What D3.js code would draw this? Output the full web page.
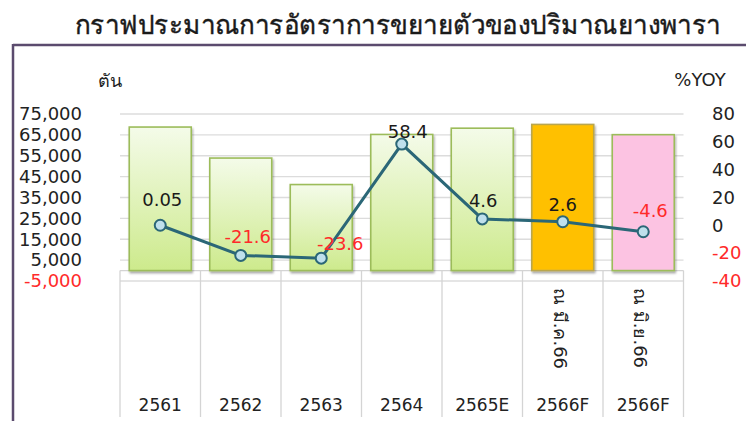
<!DOCTYPE html>
<html>
<head>
<meta charset="utf-8">
<script src="https://cdn.jsdelivr.net/npm/d3@7"></script>
<style>
  body { margin: 0; background: #fff; }
  svg { display: block; font-family: "DejaVu Sans", Verdana, sans-serif; }
</style>
</head>
<body>
<svg width="746" height="421"></svg>
<script>
var width = 746,
    height = 421;

// data
var years = ["2561", "2562", "2563", "2564", "2565E", "2566F", "2566F"];
var subLabels = ["", "", "", "", "", "ณ มี.ค.66", "ณ มิ.ย.66"];
var tonnes = [68750, 53900, 41200, 65200, 68200, 70000, 65100];
var yoy = [0.05, -21.6, -23.6, 58.4, 4.6, 2.6, -4.6];
var yoyText = ["0.05", "-21.6", "-23.6", "58.4", "4.6", "2.6", "-4.6"];
var leftTicks = [-5000, 5000, 15000, 25000, 35000, 45000, 55000, 65000, 75000];
var rightTicks = [-40, -20, 0, 20, 40, 60, 80];
var barKind = ["g", "g", "g", "g", "g", "o", "p"];

// label nudges (layout only)
var labelDx = [2, 7, 19, 6, 1, 0, 7],
    labelDy = [-26, -19, -14, -12, -18, -17, -21];

var locale = d3.formatLocale({ decimal: ".", thousands: ",", grouping: [3], currency: ["", ""], minus: "-" });
var fmt = locale.format(",");

var svg = d3.select("svg");

var defs = svg.append("defs");
var grad = defs.append("linearGradient")
    .attr("id", "gGreen")
    .attr("x1", 0).attr("y1", 0).attr("x2", 0).attr("y2", 1);
grad.append("stop").attr("offset", "0%").attr("stop-color", "#f4fbe9");
grad.append("stop").attr("offset", "100%").attr("stop-color", "#cdea8c");

var shadow = defs.append("filter").attr("id", "shadow")
    .attr("x", "-10%").attr("y", "-10%").attr("width", "130%").attr("height", "130%");
shadow.append("feDropShadow")
    .attr("dx", 1).attr("dy", 2).attr("stdDeviation", 1.2)
    .attr("flood-color", "#000").attr("flood-opacity", 0.35);

// frame
svg.append("line")
    .attr("x1", 13).attr("x2", width).attr("y1", 45).attr("y2", 45)
    .attr("stroke", "#5b4b6e").attr("stroke-width", 2.5);
svg.append("line")
    .attr("x1", 13).attr("x2", 13).attr("y1", 44).attr("y2", height)
    .attr("stroke", "#5b4b6e").attr("stroke-width", 2.5);

// title
svg.append("text")
    .attr("x", 398).attr("y", 34)
    .attr("text-anchor", "middle")
    .attr("font-size", 27)
    .attr("fill", "#1a1a1a")
    .attr("stroke", "#1a1a1a")
    .attr("stroke-width", 0.4)
    .attr("textLength", 646)
    .attr("lengthAdjust", "spacingAndGlyphs")
    .text("กราฟประมาณการอัตราการขยายตัวของปริมาณยางพารา");

var x = d3.scaleBand()
    .domain(d3.range(years.length))
    .range([120, 683.5])
    .paddingInner(0.23)
    .paddingOuter(0.115);

var yL = d3.scaleLinear().domain([-5000, 75000]).range([281, 114]);
var yR = d3.scaleLinear().domain([-40, 80]).range([281, 114]);

// gridlines
svg.append("g").selectAll("line")
    .data(leftTicks)
    .enter().append("line")
    .attr("x1", 120).attr("x2", 683.5)
    .attr("y1", function (d) { return yL(d); })
    .attr("y2", function (d) { return yL(d); })
    .attr("stroke", "#dcdcdc").attr("stroke-width", 1.3);

// left axis
var axL = svg.append("g")
    .attr("transform", "translate(84,0)")
    .call(d3.axisLeft(yL).tickValues(leftTicks).tickSize(0).tickPadding(2)
        .tickFormat(fmt));
axL.select(".domain").remove();
axL.selectAll("text")
    .attr("font-size", 18)
    .attr("font-family", "DejaVu Sans, sans-serif")
    .attr("fill", function (d) { return d < 0 ? "#ff2a2a" : "#222"; });

// right axis
var axR = svg.append("g")
    .attr("transform", "translate(710,0)")
    .call(d3.axisRight(yR).tickValues(rightTicks).tickSize(0).tickPadding(2)
        .tickFormat(fmt));
axR.select(".domain").remove();
axR.selectAll("text")
    .attr("font-size", 18)
    .attr("font-family", "DejaVu Sans, sans-serif")
    .attr("fill", function (d) { return d < 0 ? "#ff2a2a" : "#222"; });

// unit labels
svg.append("text").attr("x", 110).attr("y", 87)
    .attr("text-anchor", "middle").attr("font-size", 18).attr("fill", "#222")
    .text("ตัน");
svg.append("text").attr("x", 700).attr("y", 86)
    .attr("text-anchor", "middle").attr("font-size", 18).attr("fill", "#222")
    .text("%YOY");

// table under the plot
var table = svg.append("g");
table.append("line")
    .attr("x1", 120).attr("x2", 683.5)
    .attr("y1", yL(0)).attr("y2", yL(0))
    .attr("stroke", "#d4d4d4").attr("stroke-width", 1.3);
var edges = d3.range(years.length + 1).map(function (i) {
    return i < years.length ? x(i) - x.step() * x.paddingInner() / 2 : 683.5;
});
table.selectAll(".vline")
    .data(edges)
    .enter().append("line")
    .attr("class", "vline")
    .attr("x1", function (d) { return d; })
    .attr("x2", function (d) { return d; })
    .attr("y1", yL(0)).attr("y2", 417)
    .attr("stroke", "#d4d4d4").attr("stroke-width", 1.3);

table.selectAll(".year")
    .data(years)
    .enter().append("text")
    .attr("class", "year")
    .attr("x", function (d, i) { return x(i) + x.bandwidth() / 2; })
    .attr("y", 411)
    .attr("text-anchor", "middle")
    .attr("font-size", 17)
    .attr("fill", "#222")
    .text(function (d) { return d; });

table.selectAll(".sub")
    .data(subLabels)
    .enter().append("text")
    .attr("class", "sub")
    .attr("transform", function (d, i) {
        return "translate(" + (x(i) + x.bandwidth() / 2 - 9) + ",288) rotate(90)";
    })
    .attr("font-size", 18)
    .attr("fill", "#222")
    .text(function (d) { return d; });

// bars
svg.append("g").selectAll("rect")
    .data(tonnes)
    .enter().append("rect")
    .attr("x", function (d, i) { return x(i); })
    .attr("y", function (d) { return yL(d); })
    .attr("width", x.bandwidth())
    .attr("height", function (d) { return yL(0) - yL(d); })
    .attr("fill", function (d, i) {
        return barKind[i] === "o" ? "#ffc000" : barKind[i] === "p" ? "#fcc3e2" : "url(#gGreen)";
    })
    .attr("stroke", function (d, i) { return barKind[i] === "o" ? "#b9a64e" : "#9cbc5a"; })
    .attr("stroke-width", 1.6)
    .attr("filter", "url(#shadow)");

// yoy line
var line = d3.line()
    .x(function (d, i) { return x(i) + x.bandwidth() / 2; })
    .y(function (d) { return yR(d); });

svg.append("path")
    .datum(yoy)
    .attr("d", line)
    .attr("fill", "none")
    .attr("stroke", "#2b6777")
    .attr("stroke-width", 3);

svg.append("g").selectAll("circle")
    .data(yoy)
    .enter().append("circle")
    .attr("cx", function (d, i) { return x(i) + x.bandwidth() / 2; })
    .attr("cy", function (d) { return yR(d); })
    .attr("r", 5.5)
    .attr("fill", "#bfe0ec")
    .attr("stroke", "#2b6777")
    .attr("stroke-width", 2);

svg.append("g").selectAll("text")
    .data(yoy)
    .enter().append("text")
    .attr("x", function (d, i) { return x(i) + x.bandwidth() / 2 + labelDx[i]; })
    .attr("y", function (d, i) { return yR(d) + labelDy[i]; })
    .attr("dy", "0.35em")
    .attr("text-anchor", "middle")
    .attr("font-size", 18)
    .attr("fill", function (d) { return d < 0 ? "#ff2a2a" : "#1a1a1a"; })
    .text(function (d, i) { return yoyText[i]; });
</script>
</body>
</html>
